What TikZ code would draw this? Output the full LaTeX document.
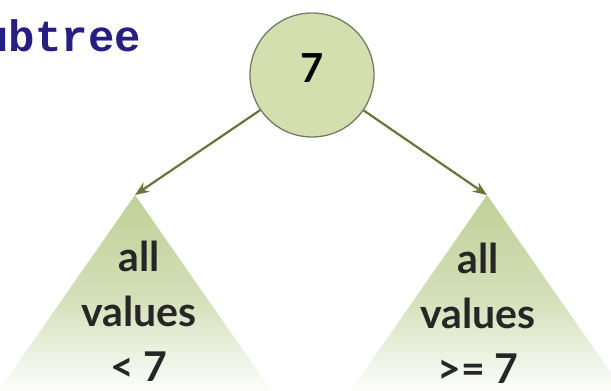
\documentclass[tikz,border=0pt]{standalone}
\usepackage{fontspec}
\setmainfont{Lato}
\newfontfamily\typefont{Liberation Mono}
\usetikzlibrary{arrows.meta,positioning,shapes.geometric}
\definecolor{bstfill} {RGB}{212,223,176}
\definecolor{bstedge} {RGB}{118,124,98}
\definecolor{bstarrow}{RGB}{104,118,60}
\definecolor{bsttree} {RGB}{192,209,152}
\definecolor{bstnavy} {RGB}{38,30,128}
\tikzset{
  keynode/.style={circle,draw=bstedge,fill=bstfill,line width=1.3pt,
                  minimum size=124pt,inner sep=0pt,text depth=14pt,
                  font=\fontsize{40}{44}\selectfont\bfseries},
  subtree/.style={top color=bsttree,bottom color=white,
                  middle color=bsttree!70,draw=none},
  treetext/.style={align=center,inner sep=0pt,anchor=north,
                   font=\fontsize{41}{55}\selectfont\bfseries,text=black!85},
  arr/.style={-{Stealth[length=14pt,width=11pt]},line width=2.2pt,draw=bstarrow},
}
\begin{document}
\begin{tikzpicture}[x=1pt,y=1pt]
  \useasboundingbox[fill=white] (0,0) rectangle (611,391);
  \clip (0,0) rectangle (611,391);
  % caption fragment cut at the left edge
  \node[anchor=base west,inner sep=0pt,text=bstnavy,
        font=\fontsize{44}{48}\selectfont\typefont\bfseries] (caption)
    at (-44,339) {subtree};
  % the two subtrees
  \coordinate (lapex) at (135,196);
  \coordinate (rapex) at (487,196);
  \shade[subtree] (lapex) -- (-5,-5) -- (275,-5) -- cycle;
  \shade[subtree] (rapex) -- (347,-5) -- (627,-5) -- cycle;
  \node[treetext] (ltext) at (139,150) {all\\values\\< 7};
  \node[treetext] (rtext) at (478,148) {all\\values\\>= 7};
  % root
  \node[keynode] (root) at (312,316) {7};
  \draw[arr] (root) -- (lapex);
  \draw[arr] (root) -- (rapex);
\end{tikzpicture}
\end{document}
